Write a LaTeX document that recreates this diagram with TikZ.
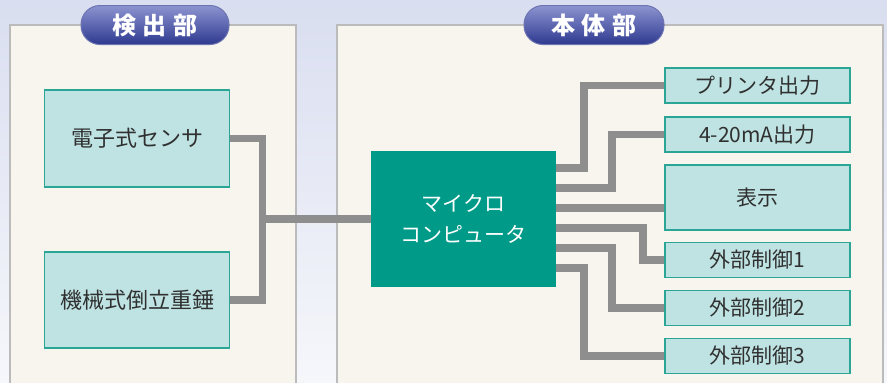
\documentclass[tikz,border=0pt]{standalone}
\usepackage{fontspec}
\newfontfamily\cjk{Noto Sans CJK JP}
\usetikzlibrary{calc}

\definecolor{bgTop}{HTML}{D9DEF0}
\definecolor{bgBot}{HTML}{F6F7FB}
\definecolor{panelFill}{HTML}{F7F5EE}
\definecolor{panelLine}{HTML}{BBBBBB}
\definecolor{boxFill}{HTML}{BFE3E3}
\definecolor{boxLine}{HTML}{2BA595}
\definecolor{microFill}{HTML}{009A89}
\definecolor{wireGray}{HTML}{8E8E8E}
\definecolor{pillTop}{HTML}{8C94D0}
\definecolor{pillBot}{HTML}{2E3990}
\definecolor{textGray}{HTML}{303030}

\begin{document}
\begin{tikzpicture}[
    x=1pt, y=-1pt,
    panel/.style={fill=panelFill, draw=panelLine, line width=2.5pt},
    pill/.style={draw=pillBot!70, line width=1pt, top color=pillTop, bottom color=pillBot,
        rounded corners=19pt, minimum height=39pt, text=white,
        font=\cjk\bfseries\fontsize{24}{26}\selectfont},
    box/.style={draw=boxLine, fill=boxFill, line width=1.5pt, text=textGray,
        minimum width=185pt, font=\cjk\fontsize{21}{24}\selectfont},
    micro/.style={fill=microFill, text=white, minimum width=185pt, minimum height=136pt,
        align=center, font=\cjk\fontsize{21}{31}\selectfont},
    wire/.style={draw=wireGray, line width=7.5pt}
]

% Background and panels
\fill[top color=bgTop, bottom color=bgBot] (0,0) rectangle (887,383);
\useasboundingbox (0,0) rectangle (887,383);
\draw[panel] (10,25) rectangle (296,395);
\draw[panel] (337,25) rectangle (883,395);

% Headers
\node[pill, minimum width=148pt] (detect) at (155,25) {検\hspace{7pt}出\hspace{7pt}部};
\node[pill, minimum width=140pt] (body) at (594,25) {本\hspace{7pt}体\hspace{7pt}部};

% Nodes
\node[box, minimum height=97pt, font=\cjk\fontsize{22}{24}\selectfont] (sensor) at (137,138.5) {電子式センサ};
\node[box, minimum height=96pt, font=\cjk\fontsize{22}{24}\selectfont] (weight) at (137,300) {機械式倒立重錘};
\node[micro] (micro) at (463.5,219) {マイクロ\\コンピュータ};

\node[box, minimum height=35pt] (printer) at (757.5,85.5) {プリンタ出力};
\node[box, minimum height=35pt] (current) at (757.5,134.5) {4-20mA出力};
\node[box, minimum height=65pt] (display) at (757.5,197.5) {表示};
\node[box, minimum height=35pt] (ext1) at (757.5,260) {外部制御1};
\node[box, minimum height=35pt] (ext2) at (757.5,308) {外部制御2};
\node[box, minimum height=35pt] (ext3) at (757.5,356) {外部制御3};

% Wires, left side
\coordinate (bus) at ($(sensor.east)+(32,0)$);
\draw[wire] (sensor.east) -- (bus) |- (weight.east);
\draw[wire] (micro.west) -- (micro.west -| bus);

% Wires, right side
\coordinate (out1) at ($(micro.north east)+(0,17)$);
\coordinate (out2) at ($(micro.north east)+(0,37)$);
\coordinate (out3) at ($(micro.north east)+(0,57)$);
\coordinate (out4) at ($(micro.north east)+(0,77)$);
\coordinate (out5) at ($(micro.north east)+(0,97)$);
\coordinate (out6) at ($(micro.north east)+(0,117)$);

\draw[wire] (out1) -- ++(28,0) |- (printer.west);
\draw[wire] (out2) -- ++(56,0) |- (current.west);
\draw[wire] (out3) -- (out3 -| display.west);
\draw[wire] (out4) -- ++(87,0) |- (ext1.west);
\draw[wire] (out5) -- ++(56,0) |- (ext2.west);
\draw[wire] (out6) -- ++(28,0) |- (ext3.west);

\end{tikzpicture}
\end{document}
